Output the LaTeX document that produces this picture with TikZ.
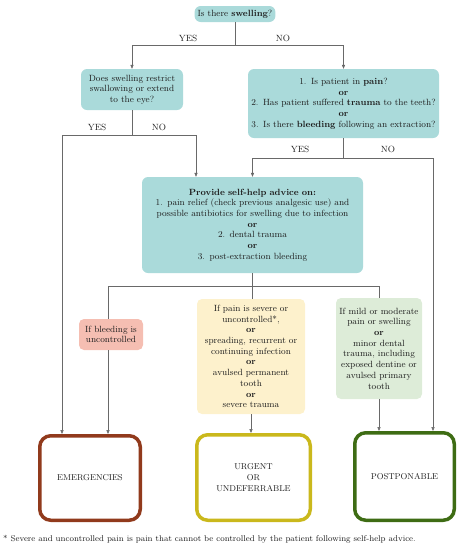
\documentclass[tikz,border=0pt]{standalone}
\usetikzlibrary{arrows.meta}
\definecolor{boxteal}{RGB}{170,218,218}
\definecolor{boxpink}{RGB}{245,190,178}
\definecolor{boxcream}{RGB}{253,241,204}
\definecolor{boxmint}{RGB}{221,236,216}
\definecolor{emred}{RGB}{145,58,28}
\definecolor{urgyel}{RGB}{202,184,28}
\definecolor{postgrn}{RGB}{62,108,20}
\definecolor{linegray}{RGB}{105,105,105}
\definecolor{inkgray}{RGB}{30,30,30}
\begin{document}
\begin{tikzpicture}
[x=1pt,y=-1pt,font=\fontsize{9}{10.7}\selectfont,text=inkgray,
query/.style={fill=boxteal,rounded corners=6pt,align=center,inner sep=3pt},
cond/.style={rounded corners=5pt,align=center,inner sep=3pt},
outcome/.style={draw,line width=3.5pt,rounded corners=11pt,align=center,fill=white,font=\fontsize{8.5}{10.7}\selectfont},
line/.style={draw=linegray,line width=0.6pt},
arr/.style={line,-{Triangle[length=4pt,width=3.2pt]}},
lab/.style={inner sep=1pt}]
\useasboundingbox (0,0) rectangle (462,550);
\path (235,14) node (swell) [query,minimum width=77pt,minimum height=16pt] {Is there \textbf{swelling}?}
(132,89.5) node (restrict) [query,text width=96pt,minimum height=41pt] {Does swelling restrict\\ swallowing or extend\\ to the eye?}
(343.5,103.5) node (pain) [query,text width=185pt,minimum height=69pt] {1. Is patient in \textbf{pain}?\\ \textbf{or}\\ 2. Has patient suffered \textbf{trauma} to the teeth?\\ \textbf{or}\\ 3. Is there \textbf{bleeding} following an extraction?}
(252.5,225) node (help) [query,text width=215pt,minimum height=96pt] {\textbf{Provide self-help advice on:}\\ 1. pain relief (check previous analgesic use) and\\ possible antibiotics for swelling due to infection\\ \textbf{or}\\ 2. dental trauma\\ \textbf{or}\\ 3. post-extraction bleeding}
(111,334.5) node (bleed) [cond,fill=boxpink,text width=58pt,minimum height=31pt] {If bleeding is\\ uncontrolled}
(251,356.5) node (severe) [cond,fill=boxcream,text width=102pt,minimum height=115pt] {If pain is severe or\\ uncontrolled*,\\ \textbf{or}\\ spreading, recurrent or\\ continuing infection\\ \textbf{or}\\ avulsed permanent\\ tooth\\ \textbf{or}\\ severe trauma}
(379,348.5) node (mild) [cond,fill=boxmint,text width=80pt,minimum height=101pt] {If mild or moderate\\ pain or swelling\\ \textbf{or}\\ minor dental\\ trauma, including\\ exposed dentine or\\ avulsed primary\\ tooth}
(90,478) node (emerg) [outcome,draw=emred,minimum width=100.5pt,minimum height=84.5pt] {EMERGENCIES}
(253.5,477.5) node (urgent) [outcome,draw=urgyel,minimum width=113.5pt,minimum height=85.5pt] {URGENT\\ OR\\ UNDEFERRABLE}
(404.5,476.5) node (postp) [outcome,draw=postgrn,minimum width=99.5pt,minimum height=87.5pt] {POSTPONABLE};
% first question
\coordinate (sj) at (235,45);
\draw [line] (swell.south) -- (sj);
\draw [arr] (sj) -| (restrict.north);
\draw [arr] (sj) -| (pain.north);
\node (yes1) [lab] at (188,38) {YES};
\node (no1) [lab] at (283,38) {NO};
% swelling branch
\coordinate (rj) at (132,135);
\coordinate (rl) at (62,135);
\coordinate (rr) at (196,135);
\draw [line] (restrict.south) -- (rj);
\draw [line] (rl) -- (rr);
\draw [arr] (rl) -- (rl |- emerg.north);
\draw [arr] (rr) -- (rr |- help.north);
\node (yes2) [lab] at (97,127) {YES};
\node (no2) [lab] at (159,127) {NO};
% pain branch
\coordinate (pj) at (343.5,158);
\coordinate (pl) at (252.5,158);
\coordinate (pr) at (433,158);
\draw [line] (pain.south) -- (pj);
\draw [line] (pr) -- (pl);
\draw [arr] (pl) -- (help.north);
\draw [arr] (pr) -- (pr |- postp.north);
\node (yes3) [lab] at (300,149) {YES};
\node (no3) [lab] at (388,149) {NO};
% after advice
\coordinate (hj) at (252.5,286);
\coordinate (hl) at (108,286);
\coordinate (hr) at (379,286);
\draw [line] (help.south) -- (hj);
\draw [line] (hl) -- (hr);
\draw [line] (hl) -- (hl |- bleed.north);
\draw [line] (hj) -- (hj |- severe.north);
\draw [line] (hr) -- (mild.north);
\draw [arr] (hl |- bleed.south) -- (hl |- emerg.north);
\draw [arr] (severe.south) -- (severe.south |- urgent.north);
\draw [arr] (mild.south) -- (mild.south |- postp.north);
\node (note) [anchor=west,inner sep=0pt,font=\fontsize{8.4}{9}\selectfont] at (3,539) {* Severe and uncontrolled pain is pain that cannot be controlled by the patient following self-help advice.};
\end{tikzpicture}
\end{document}
